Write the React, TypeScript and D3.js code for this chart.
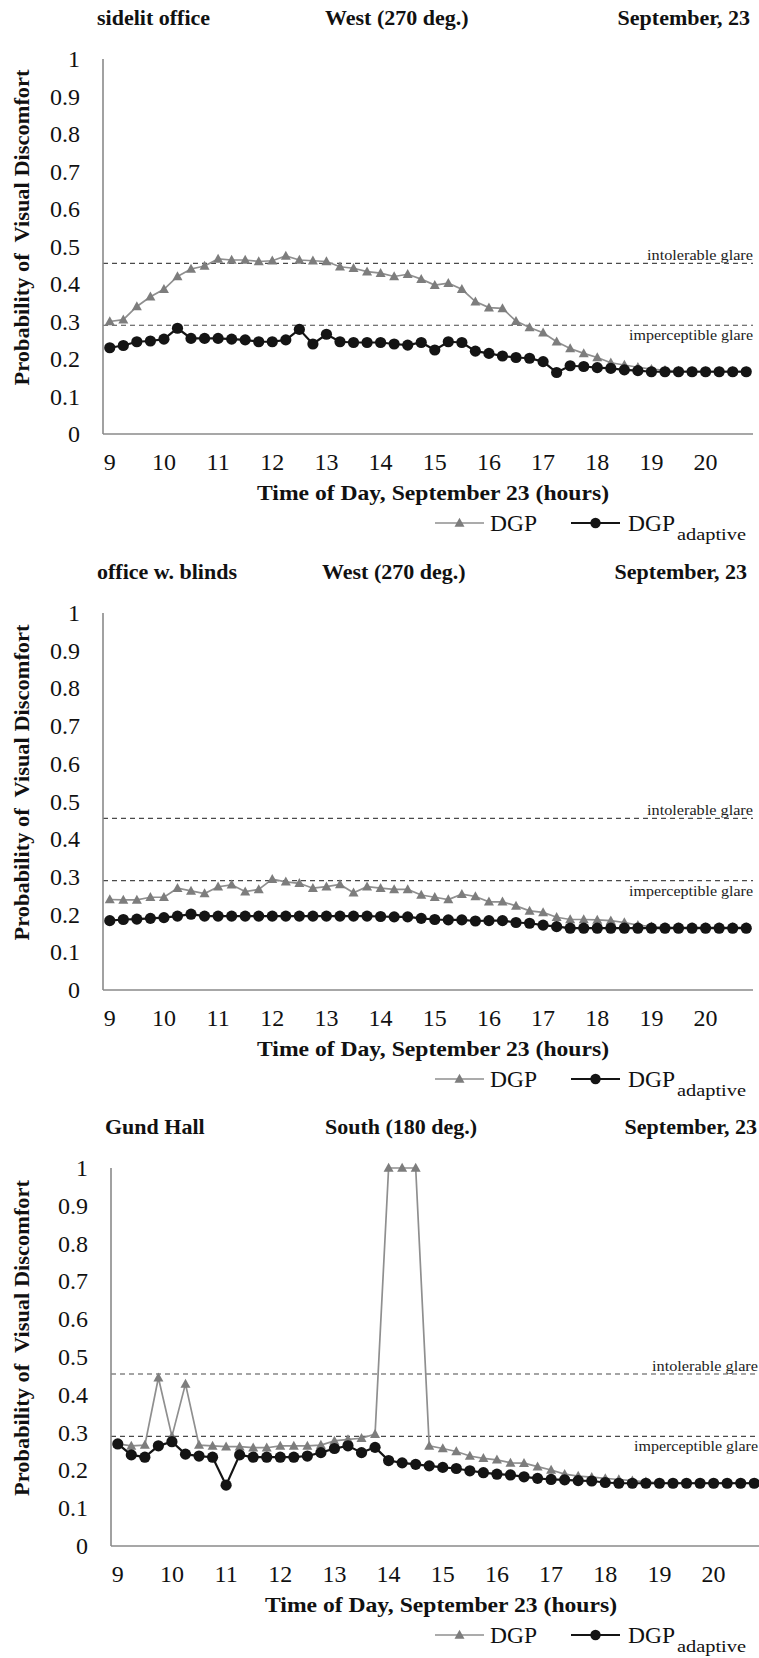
import React from "react";
import * as d3 from "d3";

// Quarter-hour time slots, 9:00 to 20:45
const timeSlots = [
  "9:00", "9:15", "9:30", "9:45", "10:00", "10:15", "10:30", "10:45",
  "11:00", "11:15", "11:30", "11:45", "12:00", "12:15", "12:30", "12:45",
  "13:00", "13:15", "13:30", "13:45", "14:00", "14:15", "14:30", "14:45",
  "15:00", "15:15", "15:30", "15:45", "16:00", "16:15", "16:30", "16:45",
  "17:00", "17:15", "17:30", "17:45", "18:00", "18:15", "18:30", "18:45",
  "19:00", "19:15", "19:30", "19:45", "20:00", "20:15", "20:30", "20:45",
];
const hourTicks = ["9", "10", "11", "12", "13", "14", "15", "16", "17", "18", "19", "20"];
const yTicks = [0, 0.1, 0.2, 0.3, 0.4, 0.5, 0.6, 0.7, 0.8, 0.9, 1];
const yTickLabels = ["0", "0.1", "0.2", "0.3", "0.4", "0.5", "0.6", "0.7", "0.8", "0.9", "1"];

const thresholdValues = [0.455, 0.29];
const thresholdLabels = ["intolerable glare", "imperceptible glare"];

// sidelit office, West
const sidelitDGP = [
  0.30, 0.305, 0.34, 0.366, 0.386, 0.42, 0.44, 0.448, 0.467, 0.464, 0.464, 0.46,
  0.462, 0.475, 0.464, 0.462, 0.46, 0.446, 0.442, 0.433, 0.429, 0.42, 0.426, 0.413,
  0.397, 0.402, 0.386, 0.353, 0.337, 0.335, 0.301, 0.284, 0.27, 0.246, 0.228, 0.215,
  0.204, 0.19, 0.184, 0.178, 0.173, 0.17, 0.168, 0.167, 0.167, 0.167, 0.167, 0.167,
];
const sidelitAdaptive = [
  0.23, 0.236, 0.246, 0.248, 0.253, 0.282, 0.255, 0.255, 0.255, 0.253, 0.251, 0.246,
  0.246, 0.251, 0.279, 0.24, 0.266, 0.246, 0.244, 0.244, 0.244, 0.24, 0.237, 0.244,
  0.224, 0.246, 0.244, 0.221, 0.215, 0.208, 0.204, 0.202, 0.193, 0.164, 0.182, 0.18,
  0.177, 0.175, 0.171, 0.169, 0.166, 0.166, 0.166, 0.166, 0.166, 0.166, 0.166, 0.166,
];

// office with blinds, West
const blindsDGP = [
  0.24, 0.239, 0.239, 0.246, 0.246, 0.27, 0.263, 0.256, 0.274, 0.279, 0.261, 0.267,
  0.294, 0.287, 0.283, 0.27, 0.274, 0.28, 0.258, 0.274, 0.27, 0.267, 0.267, 0.252,
  0.246, 0.24, 0.254, 0.248, 0.234, 0.234, 0.223, 0.21, 0.206, 0.193, 0.187, 0.187,
  0.186, 0.184, 0.179, 0.172, 0.168, 0.166, 0.166, 0.166, 0.166, 0.166, 0.166, 0.166,
];
const blindsAdaptive = [
  0.184, 0.187, 0.188, 0.19, 0.192, 0.196, 0.201, 0.196, 0.196, 0.196, 0.196, 0.196,
  0.196, 0.196, 0.196, 0.196, 0.196, 0.196, 0.196, 0.196, 0.195, 0.194, 0.194, 0.19,
  0.187, 0.186, 0.186, 0.183, 0.184, 0.184, 0.179, 0.177, 0.172, 0.168, 0.164, 0.164,
  0.164, 0.164, 0.164, 0.164, 0.164, 0.164, 0.164, 0.164, 0.164, 0.164, 0.164, 0.164,
];

// Gund Hall, South
const gundDGP = [
  0.27, 0.265, 0.267, 0.445, 0.29, 0.429, 0.267, 0.265, 0.263, 0.263, 0.26, 0.26,
  0.265, 0.265, 0.265, 0.267, 0.278, 0.282, 0.285, 0.296, 1.0, 1.0, 1.0, 0.265,
  0.258, 0.25, 0.238, 0.232, 0.228, 0.22, 0.219, 0.21, 0.201, 0.19, 0.185, 0.182,
  0.179, 0.176, 0.173, 0.17, 0.167, 0.167, 0.167, 0.167, 0.167, 0.167, 0.167, 0.167,
];
const gundAdaptive = [
  0.27, 0.241, 0.235, 0.265, 0.276, 0.243, 0.238, 0.235, 0.161, 0.241, 0.235, 0.235,
  0.235, 0.235, 0.238, 0.247, 0.258, 0.265, 0.247, 0.261, 0.226, 0.22, 0.216, 0.212,
  0.208, 0.205, 0.199, 0.194, 0.19, 0.188, 0.183, 0.179, 0.176, 0.175, 0.173, 0.172,
  0.168, 0.166, 0.166, 0.166, 0.166, 0.166, 0.166, 0.166, 0.166, 0.166, 0.166, 0.166,
];

const W = 759;
const H = 1658;
const FONT = "'Liberation Serif', 'Times New Roman', serif";
const GREY_LINE = "#8f8f8f";
const GREY_MARK = "#7d7d7d";
const BLACK = "#141414";
const AXIS = "#8a8a8a";

type PanelSpec = {
  name: string;
  orientation: string;
  date: string;
  dgp: number[];
  adaptive: number[];
  left: number;
  right: number;
  top: number;
  bottom: number;
  nameX: number;
  orientX: number;
  dateRight: number;
};

const panels: PanelSpec[] = [
  {
    name: "sidelit office", orientation: "West (270 deg.)", date: "September, 23",
    dgp: sidelitDGP, adaptive: sidelitAdaptive,
    left: 103, right: 753, top: 59, bottom: 434, nameX: 97, orientX: 325, dateRight: 750,
  },
  {
    name: "office w. blinds", orientation: "West (270 deg.)", date: "September, 23",
    dgp: blindsDGP, adaptive: blindsAdaptive,
    left: 103, right: 753, top: 613, bottom: 990, nameX: 97, orientX: 322, dateRight: 747,
  },
  {
    name: "Gund Hall", orientation: "South (180 deg.)", date: "September, 23",
    dgp: gundDGP, adaptive: gundAdaptive,
    left: 111, right: 761, top: 1168, bottom: 1546, nameX: 105, orientX: 325, dateRight: 757,
  },
];

const trianglePath = "M0,-5.2L5,3.8L-5,3.8Z";

function Panel({ p }: { p: PanelSpec }) {
  const x = d3.scaleBand<string>().domain(timeSlots).range([p.left, p.right]).paddingInner(0).paddingOuter(0);
  const cx = (s: string) => (x(s) as number) + x.bandwidth() / 2;
  const y = d3.scaleLinear().domain([0, 1]).range([p.bottom, p.top]);

  const line = d3
    .line<number>()
    .x((_, i) => cx(timeSlots[i]))
    .y((v) => y(v));

  const midY = (p.top + p.bottom) / 2 - 19;
  const legendBase = p.bottom + 97;
  const legendLineY = legendBase - 8;

  return (
    <g>
      {/* header row */}
      <text x={p.nameX} y={p.top - 34} fontFamily={FONT} fontWeight="bold" fontSize={22} fill="#111">
        {p.name}
      </text>
      <text x={p.orientX} y={p.top - 34} fontFamily={FONT} fontWeight="bold" fontSize={22} fill="#111">
        {p.orientation}
      </text>
      <text x={p.dateRight} y={p.top - 34} textAnchor="end" fontFamily={FONT} fontWeight="bold" fontSize={22} fill="#111">
        {p.date}
      </text>

      {/* y axis title */}
      <text
        transform={`translate(29,${midY}) rotate(-90)`}
        textAnchor="middle"
        fontFamily={FONT}
        fontWeight="bold"
        fontSize={22}
        textLength={316}
        lengthAdjust="spacingAndGlyphs"
        fill="#111"
      >
        {"Probability of\u00a0 Visual Discomfort"}
      </text>

      {/* y tick labels */}
      {yTicks.map((t, i) => (
        <text key={t} x={p.left - 23} y={y(t) + 8} textAnchor="end" fontFamily={FONT} fontSize={24} fill="#111">
          {yTickLabels[i]}
        </text>
      ))}

      {/* threshold lines */}
      {thresholdValues.map((v, i) => (
        <g key={v}>
          <line x1={p.left} x2={p.right} y1={y(v)} y2={y(v)} stroke="#4a4a4a" strokeWidth={1.2} strokeDasharray="5,4" />
          <text
            x={Math.min(p.right, W - 1)}
            y={i === 0 ? y(v) - 3 : y(v) + 15}
            textAnchor="end"
            fontFamily={FONT}
            fontSize={15}
            textLength={i === 0 ? 106 : 124}
            lengthAdjust="spacingAndGlyphs"
            fill="#222"
          >
            {thresholdLabels[i]}
          </text>
        </g>
      ))}

      {/* axes */}
      <line x1={p.left} x2={p.left} y1={p.top} y2={p.bottom} stroke={AXIS} strokeWidth={1.6} />
      <line x1={p.left} x2={p.right} y1={p.bottom} y2={p.bottom} stroke={AXIS} strokeWidth={1.6} />

      {/* x tick labels */}
      {hourTicks.map((h) => (
        <text key={h} x={cx(`${h}:00`)} y={p.bottom + 36} textAnchor="middle" fontFamily={FONT} fontSize={24} fill="#111">
          {h}
        </text>
      ))}

      {/* x axis title */}
      <text
        x={(p.left + p.right) / 2 + 5}
        y={p.bottom + 66}
        textAnchor="middle"
        fontFamily={FONT}
        fontWeight="bold"
        fontSize={22}
        textLength={352}
        lengthAdjust="spacingAndGlyphs"
        fill="#111"
      >
        Time of Day, September 23 (hours)
      </text>

      {/* DGP series */}
      <path d={line(p.dgp) ?? ""} fill="none" stroke={GREY_LINE} strokeWidth={1.7} />
      {p.dgp.map((v, i) => (
        <path key={`t${i}`} d={trianglePath} transform={`translate(${cx(timeSlots[i])},${y(v)})`} fill={GREY_MARK} />
      ))}

      {/* adaptive DGP series */}
      <path d={line(p.adaptive) ?? ""} fill="none" stroke={BLACK} strokeWidth={2.2} />
      {p.adaptive.map((v, i) => (
        <circle key={`c${i}`} cx={cx(timeSlots[i])} cy={y(v)} r={5.6} fill={BLACK} />
      ))}

      {/* legend */}
      <line x1={435} x2={484} y1={legendLineY} y2={legendLineY} stroke={GREY_LINE} strokeWidth={1.7} />
      <path d={trianglePath} transform={`translate(459.5,${legendLineY})`} fill={GREY_MARK} />
      <text x={490} y={legendBase} fontFamily={FONT} fontSize={24} textLength={47} lengthAdjust="spacingAndGlyphs" fill="#111">
        DGP
      </text>
      <line x1={571} x2={620} y1={legendLineY} y2={legendLineY} stroke={BLACK} strokeWidth={2.2} />
      <circle cx={595.5} cy={legendLineY} r={5.2} fill={BLACK} />
      <text x={628} y={legendBase} fontFamily={FONT} fontSize={24} textLength={47} lengthAdjust="spacingAndGlyphs" fill="#111">
        DGP
      </text>
      <text x={677} y={legendBase + 9} fontFamily={FONT} fontSize={16} textLength={69} lengthAdjust="spacingAndGlyphs" fill="#111">
        adaptive
      </text>
    </g>
  );
}

export default function App() {
  return (
    <svg
      width={W}
      height={H}
      viewBox={`0 0 ${W} ${H}`}
      style={{ position: "absolute", left: 0, top: 0, background: "#fff" }}
    >
      <rect x={0} y={0} width={W} height={H} fill="#fff" />
      {panels.map((p) => (
        <Panel key={p.name} p={p} />
      ))}
    </svg>
  );
}
